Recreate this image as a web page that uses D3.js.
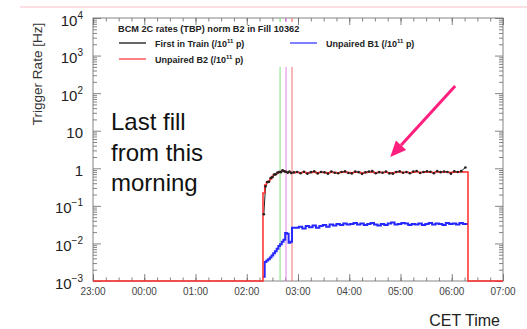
<!DOCTYPE html>
<html>
<head>
<meta charset="utf-8">
<style>
body { margin: 0; background: #fff; }
svg { display: block; font-family: "Liberation Sans", Arial, sans-serif; }
</style>
</head>
<body>
<svg width="527" height="329"></svg>
<script src="https://cdnjs.cloudflare.com/ajax/libs/d3/7.8.5/d3.min.js"></script>
<script>
// bin start times (CET), shared by the three histograms
var binTimes = ["02:19","02:21","02:23","02:25","02:27","02:29","02:31","02:33","02:35","02:37",
  "02:39","02:41","02:43","02:45","02:47","02:49","02:51","02:53",
  "02:57","03:01","03:05","03:09","03:13","03:17","03:21","03:25","03:29","03:33",
  "03:37","03:41","03:45","03:49","03:53","03:57","04:01","04:05","04:09","04:13",
  "04:17","04:21","04:25","04:29","04:33","04:37","04:41","04:45","04:49","04:53",
  "04:57","05:01","05:05","05:09","05:13","05:17","05:21","05:25","05:29","05:33",
  "05:37","05:41","05:45","05:49","05:53","05:57","06:01","06:05","06:09","06:13"];
var binEnd = "06:19";
var axisStart = "23:00", axisEnd = "07:00";

var firstInTrain = [0.06,0.33,0.43,0.44,0.55,0.58,0.68,0.69,0.77,0.8,0.79,0.88,0.83,0.81,0.76,0.82,0.75,0.78,
  0.8,0.74,0.81,0.72,0.79,0.83,0.73,0.8,0.78,0.72,0.82,0.76,0.74,0.8,0.83,0.75,0.73,0.82,0.79,0.71,
  0.78,0.82,0.84,0.74,0.79,0.76,0.82,0.73,0.72,0.8,0.83,0.76,0.8,0.74,0.82,0.85,0.75,0.8,0.83,0.81,
  0.74,0.84,0.79,0.82,0.8,0.72,0.83,0.8,0.84,1.05];
var unpairedB2 = [0.22,0.36,0.42,0.45,0.52,0.6,0.66,0.7,0.74,0.78,0.82,0.86,0.84,0.8,0.78,0.8,0.77,0.76,
  0.78,0.76,0.79,0.75,0.77,0.8,0.76,0.78,0.77,0.75,0.79,0.77,0.76,0.78,0.8,0.77,0.76,0.79,0.78,0.75,
  0.77,0.79,0.8,0.76,0.78,0.77,0.79,0.76,0.75,0.78,0.8,0.77,0.78,0.76,0.79,0.81,0.77,0.78,0.8,0.79,
  0.77,0.81,0.78,0.8,0.79,0.77,0.8,0.79,0.81,0.8];
var unpairedB1 = [0.0013,0.0032,0.0035,0.0038,0.0042,0.0048,0.0055,0.0062,0.0072,0.0085,0.0095,0.011,0.0125,0.019,0.018,0.0105,0.011,0.026,
  0.026,0.028,0.025,0.029,0.027,0.03,0.026,0.029,0.031,0.028,0.032,0.03,0.033,0.031,0.034,0.032,0.033,0.035,0.032,0.034,
  0.031,0.033,0.035,0.032,0.03,0.033,0.031,0.034,0.036,0.032,0.033,0.035,0.034,0.031,0.033,0.032,0.034,0.031,0.033,0.035,
  0.032,0.034,0.033,0.031,0.035,0.033,0.034,0.032,0.035,0.033];

var markerTimes = ["02:39","02:46","02:53"];
var markerTop = 500;

var xTickLabels = ["23:00","00:00","01:00","02:00","03:00","04:00","05:00","06:00","07:00"];
var yTickValues = [1e4,1e3,1e2,10,1,0.1,0.01,0.001];
var yTickLabels = [["10","4"],["10","3"],["10","2"],["10",""],["1",""],["10","\u22121"],["10","\u22122"],["10","\u22123"]];

var legendTitle = "BCM 2C rates (TBP) norm B2 in Fill 10362";
var legendNames = ["First in Train", "Unpaired B1", "Unpaired B2"];
var annotation = ["Last fill", "from this", "morning"];
var arrowFrom = ["06:04", 155], arrowTo = ["04:48", 2.0];

var svg = d3.select("svg"),
    pL = 93, pR = 503, pT = 18, pB = 281;

var parseHM = d3.timeParse("%H:%M");
function t(s) {
  var d = parseHM(s);
  if (d.getHours() < 12) d = d3.timeDay.offset(d, 1);
  return d;
}

var x = d3.scaleTime().domain([t(axisStart), t(axisEnd)]).range([pL, pR]);
var y = d3.scaleLog().domain([1e-3, 1e4]).range([pB, pT]).clamp(true);

// decorative slide line
svg.append("line").attr("x1", 20).attr("x2", 527).attr("y1", 7).attr("y2", 7)
  .attr("stroke", "#fbd3dd").attr("stroke-width", 1.5);

// ticks
var minorY = [];
for (var e = -3; e < 4; e++) for (var m = 2; m < 10; m++) minorY.push(m * Math.pow(10, e));
var majorX = d3.timeHour.range(t(axisStart), d3.timeMinute.offset(t(axisEnd), 1));
var minorX = d3.timeMinute.every(15).range(t(axisStart), t(axisEnd));

function tickStyle(g) {
  g.select(".domain").remove();
  g.selectAll("line").attr("stroke", "#666").attr("stroke-width", 0.8);
  g.selectAll("text").remove();
}
svg.append("g").attr("transform", "translate(" + pL + ",0)")
  .call(d3.axisLeft(y).tickValues(yTickValues).tickSize(-8)).call(tickStyle);
svg.append("g").attr("transform", "translate(" + pL + ",0)")
  .call(d3.axisLeft(y).tickValues(minorY).tickSize(-4)).call(tickStyle);
svg.append("g").attr("transform", "translate(" + pR + ",0)")
  .call(d3.axisRight(y).tickValues(yTickValues).tickSize(-8)).call(tickStyle);
svg.append("g").attr("transform", "translate(" + pR + ",0)")
  .call(d3.axisRight(y).tickValues(minorY).tickSize(-4)).call(tickStyle);
svg.append("g").attr("transform", "translate(0," + pB + ")")
  .call(d3.axisBottom(x).tickValues(majorX).tickSize(-7)).call(tickStyle);
svg.append("g").attr("transform", "translate(0," + pB + ")")
  .call(d3.axisBottom(x).tickValues(minorX).tickSize(-3.5)).call(tickStyle);
svg.append("g").attr("transform", "translate(0," + pT + ")")
  .call(d3.axisTop(x).tickValues(majorX).tickSize(-7)).call(tickStyle);
svg.append("g").attr("transform", "translate(0," + pT + ")")
  .call(d3.axisTop(x).tickValues(minorX).tickSize(-3.5)).call(tickStyle);

svg.append("rect").attr("x", pL).attr("y", pT)
  .attr("width", pR - pL).attr("height", pB - pT)
  .attr("fill", "none").attr("stroke", "#666").attr("stroke-width", 0.8);

// tick labels
svg.append("g").selectAll("text").data(xTickLabels).join("text")
  .attr("x", function(d) { return x(t(d)); })
  .attr("y", 295)
  .attr("text-anchor", "middle")
  .attr("font-size", 10).attr("fill", "#444")
  .text(function(d) { return d; });

var yl = svg.append("g").selectAll("text").data(yTickValues).join("text")
  .attr("x", 83)
  .attr("y", function(d) { return y(d) + 7.5; })
  .attr("text-anchor", "end")
  .attr("font-size", 15).attr("fill", "#222");
yl.each(function(d, i) {
  var lab = yTickLabels[i], el = d3.select(this);
  el.append("tspan").text(lab[0]);
  if (lab[1]) el.append("tspan").attr("font-size", 10).attr("dy", -7).text(lab[1]);
});

svg.append("text")
  .attr("transform", "translate(42,74) rotate(-90)")
  .attr("text-anchor", "middle").attr("font-size", 13.5).attr("fill", "#333")
  .text("Trigger Rate [Hz]");
svg.append("text").attr("x", 500).attr("y", 326)
  .attr("text-anchor", "end").attr("font-size", 16).attr("fill", "#222")
  .text("CET Time");

// vertical marker lines
var markerColors = ["#7ee07e", "#e47ee4", "#f07070"];
svg.append("g").selectAll("line").data(markerTimes).join("line")
  .attr("x1", function(d) { return x(t(d)); }).attr("x2", function(d) { return x(t(d)); })
  .attr("y1", y(markerTop)).attr("y2", pB)
  .attr("stroke", function(d, i) { return markerColors[i]; }).attr("stroke-width", 1);
svg.append("g").selectAll("line").data(markerTimes).join("line")
  .attr("x1", function(d) { return x(t(d)); }).attr("x2", function(d) { return x(t(d)); })
  .attr("y1", pT).attr("y2", pT + 4)
  .attr("stroke", function(d, i) { return markerColors[i]; }).attr("stroke-width", 1.2);

// series
var step = d3.line().x(function(d) { return x(d[0]); }).y(function(d) { return y(d[1]); })
  .curve(d3.curveStepAfter);
var lin = d3.line().x(function(d) { return x(d[0]); }).y(function(d) { return y(d[1]); });

function stepPoints(vals, withBase) {
  var pts = [];
  if (withBase) pts.push([t(axisStart), 1e-3]);
  binTimes.forEach(function(b, i) { pts.push([t(b), vals[i]]); });
  if (withBase) { pts.push([t(binEnd), 1e-3]); pts.push([t(axisEnd), 1e-3]); }
  else pts.push([t(binEnd), vals[vals.length - 1]]);
  return pts;
}
function centers(vals) {
  return binTimes.map(function(b, i) {
    var a = t(b), c = t(i + 1 < binTimes.length ? binTimes[i + 1] : binEnd);
    return [new Date((+a + +c) / 2), vals[i]];
  });
}

svg.append("path").attr("d", step(stepPoints(unpairedB1, false)))
  .attr("fill", "none").attr("stroke", "#2727ff").attr("stroke-width", 2);
svg.append("path").attr("d", lin(centers(firstInTrain)))
  .attr("fill", "none").attr("stroke", "#222").attr("stroke-width", 1);
svg.append("path").attr("d", step(stepPoints(unpairedB2, true)))
  .attr("fill", "none").attr("stroke", "#ff2a2a").attr("stroke-width", 1.5);
svg.append("g").selectAll("circle").data(centers(firstInTrain)).join("circle")
  .attr("cx", function(d) { return x(d[0]); }).attr("cy", function(d) { return y(d[1]); })
  .attr("r", 1.3).attr("fill", "#222");

// legend
svg.append("text").attr("x", 118).attr("y", 32)
  .attr("font-size", 9.2).attr("font-weight", "bold").attr("fill", "#222")
  .text(legendTitle);
var legendRows = [
  { name: legendNames[0], color: "#333", lx: 119, ly: 43 },
  { name: legendNames[1], color: "#5555ff", lx: 290, ly: 43 },
  { name: legendNames[2], color: "#ff5a5a", lx: 119, ly: 59 }
];
legendRows.forEach(function(r) {
  svg.append("line").attr("x1", r.lx).attr("x2", r.lx + 27).attr("y1", r.ly).attr("y2", r.ly)
    .attr("stroke", r.color).attr("stroke-width", 1.5);
  var tx = svg.append("text").attr("x", r.lx + 36).attr("y", r.ly + 3.5)
    .attr("font-size", 9).attr("font-weight", "bold").attr("fill", "#222");
  tx.append("tspan").text(r.name + " (/10");
  tx.append("tspan").attr("font-size", 6).attr("dy", -4).text("11");
  tx.append("tspan").attr("dy", 4).text(" p)");
});

// annotation
svg.append("text").attr("font-size", 24).attr("fill", "#111")
  .selectAll("tspan").data(annotation).join("tspan")
  .attr("x", 111).attr("y", function(d, i) { return 130 + i * 30.5; })
  .text(function(d) { return d; });

var ax0 = x(t(arrowFrom[0])), ay0 = y(arrowFrom[1]),
    ax1 = x(t(arrowTo[0])), ay1 = y(arrowTo[1]);
var ang = Math.atan2(ay1 - ay0, ax1 - ax0), hl = 16, hw = 7;
var bx = ax1 - hl * Math.cos(ang), by = ay1 - hl * Math.sin(ang);
svg.append("line").attr("x1", ax0).attr("y1", ay0).attr("x2", bx).attr("y2", by)
  .attr("stroke", "#ff1f7e").attr("stroke-width", 3);
svg.append("path")
  .attr("d", "M" + ax1 + "," + ay1 +
    "L" + (bx - hw * Math.sin(ang)) + "," + (by + hw * Math.cos(ang)) +
    "L" + (bx + hw * Math.sin(ang)) + "," + (by - hw * Math.cos(ang)) + "Z")
  .attr("fill", "#ff1f7e");
</script>
</body>
</html>
